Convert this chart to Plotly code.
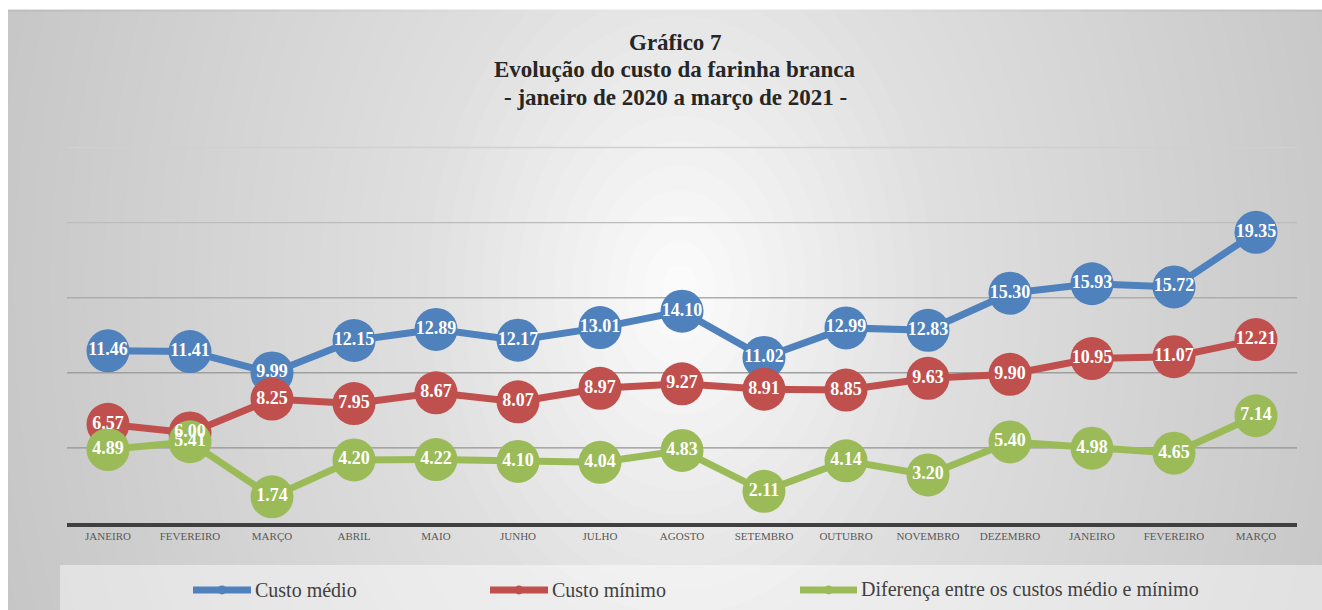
import plotly.graph_objects as go

# ---- data ----
meses = ["JANEIRO", "FEVEREIRO", "MARÇO", "ABRIL", "MAIO", "JUNHO", "JULHO", "AGOSTO",
         "SETEMBRO", "OUTUBRO", "NOVEMBRO", "DEZEMBRO", "JANEIRO", "FEVEREIRO", "MARÇO"]
custo_medio = [11.46, 11.41, 9.99, 12.15, 12.89, 12.17, 13.01, 14.10, 11.02, 12.99, 12.83, 15.30, 15.93, 15.72, 19.35]
custo_minimo = [6.57, 6.00, 8.25, 7.95, 8.67, 8.07, 8.97, 9.27, 8.91, 8.85, 9.63, 9.90, 10.95, 11.07, 12.21]
diferenca = [4.89, 5.41, 1.74, 4.20, 4.22, 4.10, 4.04, 4.83, 2.11, 4.14, 3.20, 5.40, 4.98, 4.65, 7.14]
series_names = ["Custo médio", "Custo mínimo", "Diferença entre os custos médio e mínimo"]
series_values = [custo_medio, custo_minimo, diferenca]
series_colors = ["#4F81BD", "#C0504D", "#9BBB59"]
title_lines = ["Gráfico 7", "Evolução do custo da farinha branca", "- janeiro de 2020 a março de 2021 -"]
grid_values = [5, 10, 15, 20, 25]
grid_colors = ["#939393", "#9f9f9f", "#adadad", "#bcbcbc", "#d0d0d0"]

W, H = 1322, 610
Y_MAX = 25.3
L, R, T, B = 67, 25, 142.5, 87
PW, PH = W - L - R, H - T - B
FONT = "Liberation Serif"
BASE = 198
BASE_COL = f"rgb({BASE},{BASE},{BASE})"

# helpers: convert pixel positions to paper coordinates
def px(x):
    return (x - L) / PW

def py(y):
    return (H - B - y) / PH

xs = list(range(len(meses)))
fig = go.Figure()

for name, vals, col in zip(series_names, series_values, series_colors):
    fig.add_trace(go.Scatter(
        x=xs, y=vals, mode="lines+markers", name=name,
        line=dict(color=col, width=7),
        marker=dict(color=col, size=43, line=dict(width=0)),
        showlegend=False, hoverinfo="skip", cliponaxis=False))

for name, vals in zip(series_names, series_values):
    fig.add_trace(go.Scatter(
        x=xs, y=vals, mode="text", text=[f"{v:.2f}" for v in vals],
        textposition="middle center",
        textfont=dict(family=FONT, size=18, color="white", weight="bold"),
        showlegend=False, hoverinfo="skip", cliponaxis=False))

shapes = []
# white page strips at top and left
shapes.append(dict(type="rect", xref="paper", yref="paper", layer="below",
                   x0=px(-20), x1=px(W + 40), y0=py(-20), y1=py(9),
                   fillcolor="white", line=dict(width=0)))
shapes.append(dict(type="rect", xref="paper", yref="paper", layer="below",
                   x0=px(-20), x1=px(8), y0=py(-20), y1=py(H + 40),
                   fillcolor="white", line=dict(width=0)))
shapes.append(dict(type="line", xref="paper", yref="paper", layer="below",
                   x0=px(8), x1=px(W + 40), y0=py(10), y1=py(10),
                   line=dict(color="#bdbdbd", width=2)))
# radial gradient via stacked translucent ellipses
cx, cy = 680, 290
rx, ry = 720, 1000
span = 56
N = 40
c_prev = BASE
for k in range(N - 1, 0, -1):
    r = k / N
    target = BASE + span * (1 - r)
    a = (target - c_prev) / (255 - c_prev)
    c_prev = target
    shapes.append(dict(type="circle", xref="paper", yref="paper", layer="below",
                       x0=px(cx - rx * r), x1=px(cx + rx * r),
                       y0=py(cy + ry * r), y1=py(cy - ry * r),
                       fillcolor=f"rgba(255,255,255,{a:.4f})", line=dict(width=0)))
# legend band
shapes.append(dict(type="rect", xref="paper", yref="paper", layer="below",
                   x0=px(60), x1=px(W + 40), y0=py(565), y1=py(H + 40),
                   fillcolor="rgba(255,255,255,0.45)", line=dict(width=0)))
# horizontal gridlines on the value axis
for gv, gc in zip(grid_values, grid_colors):
    shapes.append(dict(type="line", xref="paper", yref="y", layer="below",
                       x0=0, x1=1, y0=gv, y1=gv, line=dict(color=gc, width=1.4)))

annotations = []
leg_y = 590
leg_pos = [(193, 251), (490, 548), (800, 857)]
for (x0, x1), name, col in zip(leg_pos, series_names, series_colors):
    shapes.append(dict(type="line", xref="paper", yref="paper", layer="above",
                       x0=px(x0), x1=px(x1), y0=py(leg_y), y1=py(leg_y),
                       line=dict(color=col, width=7)))
    xm = (x0 + x1) / 2
    shapes.append(dict(type="circle", xref="paper", yref="paper", layer="above",
                       x0=px(xm - 4.5), x1=px(xm + 4.5), y0=py(leg_y + 4.5), y1=py(leg_y - 4.5),
                       fillcolor=col, line=dict(width=0)))
    annotations.append(dict(xref="paper", yref="paper", x=px(x1 + 2), y=py(leg_y),
                            xanchor="left", yanchor="middle", showarrow=False,
                            text=name, font=dict(family=FONT, size=20, color="#404040")))

for line_text, yc in zip(title_lines, [42, 69, 97]):
    annotations.append(dict(xref="paper", yref="paper", x=px(675), y=py(yc),
                            xanchor="center", yanchor="middle", showarrow=False,
                            text=f"<b>{line_text}</b>",
                            font=dict(family=FONT, size=23, color="#262626")))

fig.update_layout(
    width=W, height=H,
    margin=dict(l=L, r=R, t=T, b=B),
    paper_bgcolor=BASE_COL, plot_bgcolor="rgba(0,0,0,0)",
    shapes=shapes, annotations=annotations,
    showlegend=False,
    xaxis=dict(range=[-0.5, len(meses) - 0.5], tickmode="array", tickvals=xs, ticktext=meses,
               showgrid=False, zeroline=False, showline=True, linecolor="#404040", linewidth=4,
               ticks="", tickfont=dict(family=FONT, size=11, color="#595959"), fixedrange=True),
    yaxis=dict(range=[0, Y_MAX], dtick=5, showgrid=False,
               showticklabels=False, zeroline=False, showline=False, ticks="", fixedrange=True),
)

fig.write_html(
    "out.html",
    config={"displayModeBar": False, "staticPlot": True},
    post_script=("document.body.style.margin='0';"
                 "document.documentElement.style.overflow='hidden';"
                 "document.body.style.overflow='hidden';"
                 f"document.body.style.background='{BASE_COL}';"),
)
